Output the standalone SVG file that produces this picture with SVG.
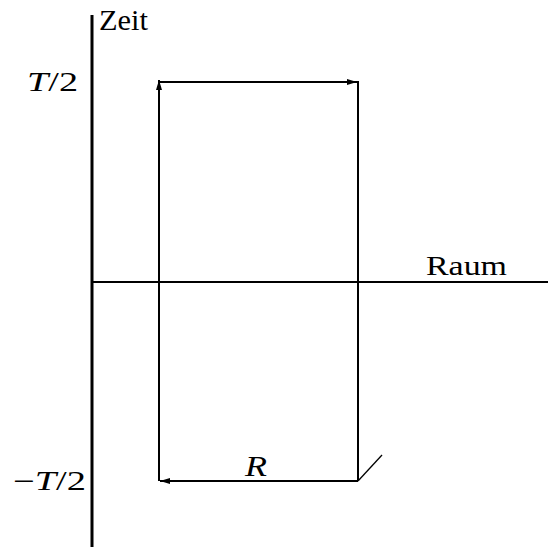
<svg xmlns="http://www.w3.org/2000/svg" width="548" height="547" viewBox="0 0 548 547">
<style>
.t{font-family:"Liberation Serif","DejaVu Serif","Noto Serif",serif;font-size:27px;fill:#000}
.i{font-style:italic}
.ln{stroke:#000;stroke-width:2;fill:none}
</style>
<defs>
<marker id="ah" viewBox="0 0 10 6" refX="10" refY="3" markerWidth="10" markerHeight="6" markerUnits="userSpaceOnUse" orient="auto">
<path d="M0,0 L10,3 L0,6 Z" fill="#000"/>
</marker>
</defs>
<rect width="548" height="547" fill="#fff"/>
<g id="axes">
<line x1="92" y1="15" x2="92" y2="547" stroke="#000" stroke-width="3"/>
<line x1="92" y1="282" x2="548" y2="282" class="ln"/>
</g>
<g id="connectors">
<line x1="159" y1="481" x2="159" y2="80" class="ln" marker-end="url(#ah)"/>
<line x1="159" y1="82" x2="357" y2="82" class="ln" marker-end="url(#ah)"/>
<line x1="358" y1="81" x2="358" y2="481" class="ln"/>
<line x1="358" y1="481" x2="160" y2="481" class="ln" marker-end="url(#ah)"/>
<line x1="358" y1="481" x2="382" y2="455" stroke="#000" stroke-width="1.3"/>
</g>
<g id="labels">
<text class="t" x="99" y="30" style="font-size:29px" textLength="49" lengthAdjust="spacingAndGlyphs">Zeit</text>
<text class="t" x="27" y="91" textLength="51" lengthAdjust="spacingAndGlyphs"><tspan class="i">T</tspan>/2</text>
<text class="t" x="13" y="490" textLength="73" lengthAdjust="spacingAndGlyphs">−<tspan class="i">T</tspan>/2</text>
<text class="t i" x="245" y="476" style="font-size:29px" textLength="22" lengthAdjust="spacingAndGlyphs">R</text>
<text class="t" x="426" y="275" style="font-size:28px" textLength="81" lengthAdjust="spacingAndGlyphs">Raum</text>
</g>
</svg>
